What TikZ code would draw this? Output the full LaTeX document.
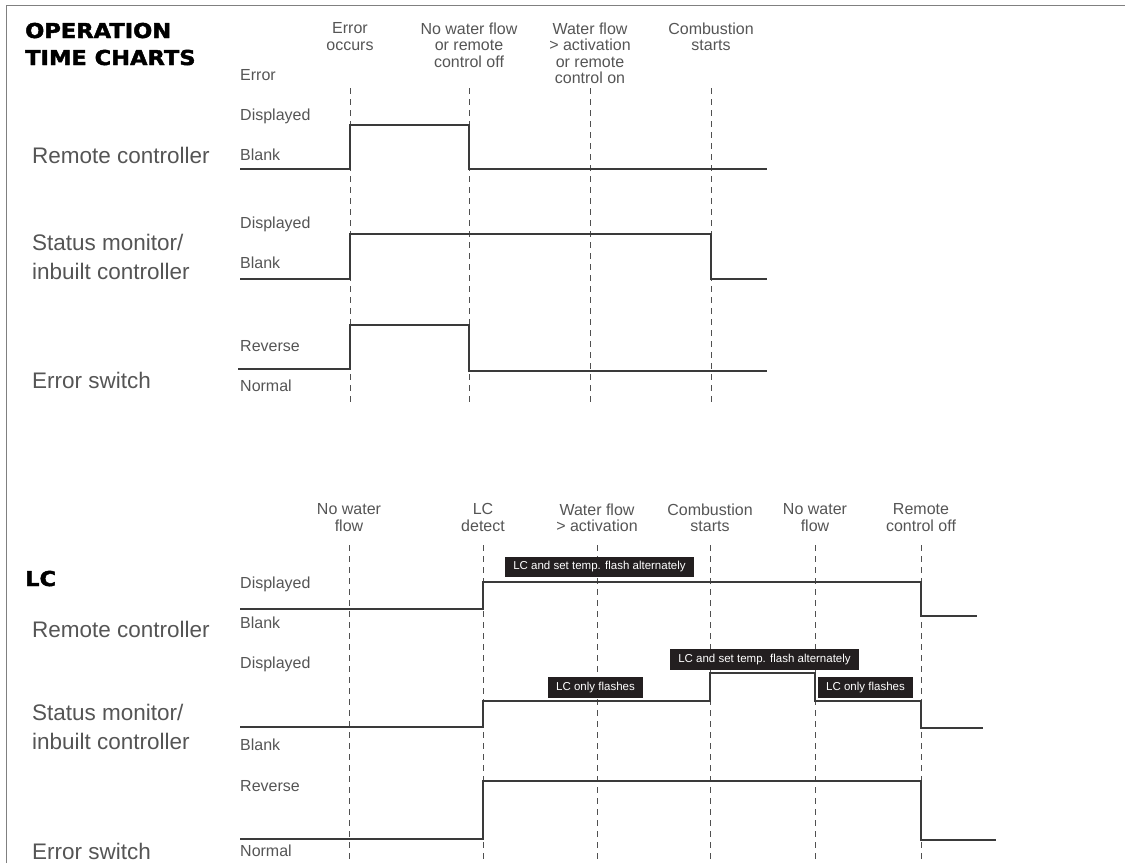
\documentclass[tikz,border=0pt]{standalone}
\usepackage{fontspec}
\setmainfont{Liberation Sans}
\newfontfamily\headfont[BoldFeatures={FakeBold=2}]{DejaVu Sans}
\definecolor{labelgray}{HTML}{555555}
\definecolor{linegray}{HTML}{3A3A3A}
\definecolor{dashgray}{HTML}{505050}
\definecolor{framegray}{HTML}{808080}
\definecolor{tagfill}{HTML}{231F20}
\tikzset{
	frame/.style={framegray, line width=1pt},
	heading/.style={anchor=base west, inner sep=0pt,
		font=\headfont\bfseries\fontsize{20.5}{24}\selectfont},
	event/.style={anchor=north, align=center, inner sep=0pt, text=labelgray,
		font=\fontsize{16}{16.5}\selectfont},
	level/.style={anchor=base west, inner sep=0pt, text=labelgray,
		font=\fontsize{16}{18}\selectfont},
	device/.style={anchor=base west, inner sep=0pt, text=labelgray,
		font=\fontsize{22.5}{29}\selectfont},
	guide/.style={dashgray, line width=0.9pt, dash pattern=on 6pt off 5pt},
	signal/.style={linegray, line width=1.1pt},
	tag/.style={fill=tagfill, text=white, inner sep=0pt, anchor=center,
		font=\fontsize{11.5}{12}\selectfont}
}
\begin{document}
\begin{tikzpicture}[x=1pt,y=-1pt]
	\useasboundingbox (0,0) rectangle (1125,863);
	\draw[frame] (6,863) -- (6,5) -- (1125,5);

	% operation time charts
	\node[heading] (title1) at (25,38) {\scalebox{1.1}[1]{OPERATION}};
	\node[heading] (title2) at (25,65) {\scalebox{1.1}[1]{TIME CHARTS}};

	\foreach \x in {350,469,590,711}
		\draw[guide] (\x,88) -- (\x,402);

	\node[event] (occurs) at (350,22.5) {Error\\occurs};
	\node[event] (nowater) at (469,22.5) {No water flow\\or remote\\control off};
	\node[event] (flowon) at (590,22.5) {Water flow\\> activation\\or remote\\control on};
	\node[event] (burn) at (711,22.5) {Combustion\\starts};

	\node[level] (err) at (240,80.5) {Error};
	\node[level] (rcdisp) at (240,120.5) {Displayed};
	\node[level] (rcblank) at (240,160.5) {Blank};
	\node[level] (smdisp) at (240,228.5) {Displayed};
	\node[level] (smblank) at (240,268.5) {Blank};
	\node[level] (esrev) at (240,351.5) {Reverse};
	\node[level] (esnorm) at (240,391.5) {Normal};

	\node[device] (rc) at (32,163) {Remote controller};
	\node[device] (sm1) at (32,250) {Status monitor/};
	\node[device] (sm2) at (32,279) {inbuilt controller};
	\node[device] (es) at (32,388) {Error switch};

	\draw[signal] (240,169) -- (350,169) -- (350,125) -- (469,125)
		-- (469,169) -- (767,169);
	\draw[signal] (240,279) -- (350,279) -- (350,234) -- (711,234)
		-- (711,279) -- (767,279);
	\draw[signal] (238,369) -- (350,369) -- (350,325) -- (469,325)
		-- (469,371) -- (767,371);

	% LC
	\node[heading] (lc) at (25,586) {\scalebox{1.1}[1]{LC}};

	\foreach \x in {349,483,597,710,815,921}
		\draw[guide] (\x,545) -- (\x,863);

	\node[event] (lcnoflow) at (349,503.5) {No water\\flow};
	\node[event] (lcdetect) at (483,503.5) {LC\\detect};
	\node[event] (lcflow) at (597,503.5) {Water flow\\> activation};
	\node[event] (lcburn) at (710,503.5) {Combustion\\starts};
	\node[event] (lcnoflow2) at (815,503.5) {No water\\flow};
	\node[event] (lcoff) at (921,503.5) {Remote\\control off};

	\node[level] (lcrcdisp) at (240,588.5) {Displayed};
	\node[level] (lcrcblank) at (240,628.5) {Blank};
	\node[level] (lcsmdisp) at (240,668.5) {Displayed};
	\node[level] (lcsmblank) at (240,750.5) {Blank};
	\node[level] (lcesrev) at (240,791.5) {Reverse};
	\node[level] (lcesnorm) at (240,856.5) {Normal};

	\node[device] (lcrc) at (32,637) {Remote controller};
	\node[device] (lcsm1) at (32,720) {Status monitor/};
	\node[device] (lcsm2) at (32,749) {inbuilt controller};
	\node[device] (lces) at (32,859) {Error switch};

	\draw[signal] (240,609) -- (483,609) -- (483,582) -- (921,582)
		-- (921,616) -- (977,616);
	\draw[signal] (240,727) -- (483,727) -- (483,701) -- (710,701)
		-- (710,673) -- (815,673) -- (815,701) -- (921,701)
		-- (921,728) -- (983,728);
	\draw[signal] (240,839) -- (483,839) -- (483,781) -- (921,781)
		-- (921,840) -- (996,840);

	\node[tag, minimum width=189pt, minimum height=20pt] (rctag) at (599.5,567)
		{LC and set temp. flash alternately};
	\node[tag, minimum width=95pt, minimum height=21pt] (smtag1) at (595.5,687.5)
		{LC only flashes};
	\node[tag, minimum width=189pt, minimum height=21pt] (smtag2) at (764.5,659.5)
		{LC and set temp. flash alternately};
	\node[tag, minimum width=95pt, minimum height=21pt] (smtag3) at (865.5,687.5)
		{LC only flashes};
\end{tikzpicture}
\end{document}
